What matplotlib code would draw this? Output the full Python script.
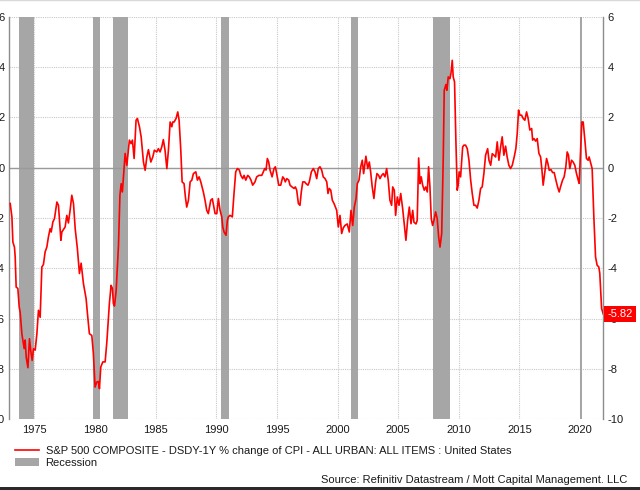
import matplotlib
matplotlib.use('Agg')
import matplotlib.pyplot as plt
import matplotlib.patches as mpatches
from matplotlib.lines import Line2D

plt.rcParams.update({
    'font.family': ['Liberation Sans', 'DejaVu Sans'],
    'font.size': 8,
})

LINE_COLOR = '#FF0000'
REC_COLOR = '#A6A6A6'
GRID_COLOR = '#C8C8C8'
SPINE_COLOR = '#8C8C8C'
TEXT_COLOR = '#1A1A1A'

# --- Data: S&P 500 dividend yield minus CPI y/y ---
YEARS = [
    1973.00, 1973.14, 1973.22, 1973.35, 1973.41, 1973.49, 1973.63, 1973.74, 1973.82, 1973.96,
    1974.15, 1974.23, 1974.32, 1974.46, 1974.59, 1974.70, 1974.81, 1974.92, 1975.06, 1975.20,
    1975.33, 1975.47, 1975.61, 1975.74, 1975.88, 1976.02, 1976.15, 1976.29, 1976.38, 1976.52,
    1976.65, 1976.85, 1976.98, 1977.18, 1977.26, 1977.53, 1977.67, 1977.80, 1977.94, 1978.08,
    1978.22, 1978.36, 1978.54, 1978.71, 1978.85, 1979.04, 1979.26, 1979.37, 1979.53, 1979.73,
    1979.86, 1980.00, 1980.14, 1980.28, 1980.36, 1980.47, 1980.64, 1980.83, 1980.97, 1981.18,
    1981.32, 1981.43, 1981.51, 1981.60, 1981.74, 1981.93, 1982.05, 1982.15, 1982.25, 1982.48,
    1982.62, 1982.83, 1982.97, 1983.08, 1983.22, 1983.38, 1983.49, 1983.66, 1983.80, 1983.99,
    1984.13, 1984.27, 1984.40, 1984.60, 1984.76, 1984.89, 1985.09, 1985.22, 1985.36, 1985.50,
    1985.63, 1985.77, 1985.92, 1986.05, 1986.19, 1986.33, 1986.41, 1986.52, 1986.68, 1986.82,
    1986.93, 1987.07, 1987.18, 1987.34, 1987.45, 1987.56, 1987.70, 1987.84, 1987.98, 1988.11,
    1988.31, 1988.44, 1988.58, 1988.72, 1988.93, 1989.07, 1989.21, 1989.34, 1989.54, 1989.67,
    1989.90, 1990.04, 1990.17, 1990.31, 1990.45, 1990.53, 1990.64, 1990.80, 1990.91, 1990.99,
    1991.13, 1991.32, 1991.46, 1991.60, 1991.74, 1991.90, 1992.02, 1992.18, 1992.29, 1992.43,
    1992.59, 1992.72, 1992.86, 1993.00, 1993.19, 1993.33, 1993.52, 1993.75, 1993.88, 1993.99,
    1994.10, 1994.21, 1994.32, 1994.43, 1994.60, 1994.76, 1994.87, 1994.98, 1995.15, 1995.31,
    1995.48, 1995.59, 1995.69, 1995.81, 1995.97, 1996.08, 1996.24, 1996.41, 1996.52, 1996.63,
    1996.77, 1996.90, 1997.01, 1997.13, 1997.29, 1997.40, 1997.56, 1997.67, 1997.84, 1998.00,
    1998.14, 1998.28, 1998.41, 1998.55, 1998.69, 1998.82, 1998.97, 1999.11, 1999.21, 1999.32,
    1999.44, 1999.57, 1999.71, 1999.82, 1999.93, 2000.06, 2000.20, 2000.34, 2000.47, 2000.61,
    2000.80, 2000.97, 2001.11, 2001.25, 2001.38, 2001.52, 2001.63, 2001.77, 2001.91, 2002.04,
    2002.15, 2002.26, 2002.34, 2002.49, 2002.62, 2002.73, 2002.86, 2003.00, 2003.14, 2003.25,
    2003.39, 2003.50, 2003.64, 2003.77, 2003.91, 2004.05, 2004.18, 2004.32, 2004.46, 2004.55,
    2004.68, 2004.79, 2004.93, 2005.07, 2005.21, 2005.37, 2005.50, 2005.64, 2005.78, 2005.92,
    2006.06, 2006.20, 2006.30, 2006.47, 2006.57, 2006.69, 2006.80, 2006.90, 2007.02, 2007.15,
    2007.27, 2007.40, 2007.51, 2007.62, 2007.73, 2007.84, 2007.95, 2008.09, 2008.22, 2008.34,
    2008.45, 2008.59, 2008.72, 2008.80, 2008.94, 2009.02, 2009.13, 2009.27, 2009.35, 2009.46,
    2009.54, 2009.65, 2009.76, 2009.87, 2009.95, 2010.03, 2010.15, 2010.32, 2010.42, 2010.56,
    2010.70, 2010.84, 2010.98, 2011.11, 2011.25, 2011.39, 2011.52, 2011.66, 2011.80, 2011.93,
    2012.07, 2012.21, 2012.38, 2012.49, 2012.63, 2012.76, 2012.90, 2013.04, 2013.17, 2013.31,
    2013.45, 2013.58, 2013.72, 2013.86, 2013.99, 2014.13, 2014.27, 2014.41, 2014.57, 2014.71,
    2014.82, 2014.93, 2015.04, 2015.18, 2015.31, 2015.45, 2015.59, 2015.72, 2015.86, 2016.01,
    2016.09, 2016.20, 2016.34, 2016.47, 2016.61, 2016.75, 2016.86, 2016.96, 2017.10, 2017.24,
    2017.35, 2017.46, 2017.60, 2017.74, 2017.87, 2018.01, 2018.15, 2018.28, 2018.39, 2018.56,
    2018.69, 2018.83, 2018.94, 2019.05, 2019.16, 2019.30, 2019.43, 2019.57, 2019.71, 2019.85,
    2019.93, 2020.04, 2020.15, 2020.26, 2020.40, 2020.53, 2020.67, 2020.75, 2020.87, 2021.00,
    2021.14, 2021.28, 2021.41, 2021.55, 2021.63, 2021.78, 2021.92,
]
VALUES = [
    -1.43, -1.96, -2.96, -3.16, -3.55, -4.75, -4.80, -5.54, -5.74, -6.60,
    -7.19, -6.85, -7.53, -7.95, -6.80, -7.30, -7.66, -7.20, -7.25, -6.60,
    -5.67, -5.95, -3.95, -3.85, -3.35, -3.16, -2.76, -2.43, -2.56, -2.16,
    -2.03, -1.37, -1.50, -2.89, -2.56, -2.36, -1.90, -2.20, -1.70, -1.10,
    -1.43, -2.43, -3.22, -4.21, -3.80, -4.61, -5.21, -5.80, -6.60, -6.67,
    -7.39, -8.72, -8.52, -8.50, -8.78, -7.92, -7.72, -7.72, -6.93, -5.40,
    -4.68, -4.80, -5.40, -5.50, -4.88, -3.10, -1.10, -0.64, -0.97, 0.56,
    0.09, 1.09, 0.95, 1.09, 0.36, 1.88, 1.95, 1.62, 1.22, 0.22,
    -0.11, 0.42, 0.71, 0.22, 0.42, 0.69, 0.62, 0.75, 0.62, 0.82,
    1.11, 0.69, -0.04, 0.69, 1.81, 1.62, 1.81, 1.81, 1.95, 2.21,
    1.88, 0.69, -0.57, -0.64, -1.17, -1.57, -1.30, -0.57, -0.50, -0.24,
    -0.17, -0.50, -0.37, -0.57, -0.97, -1.30, -1.70, -1.83, -1.30, -1.24,
    -1.83, -1.83, -1.23, -1.70, -1.96, -2.36, -2.56, -2.69, -2.10, -1.96,
    -1.90, -1.96, -1.03, -0.17, -0.04, -0.10, -0.31, -0.44, -0.31, -0.50,
    -0.31, -0.37, -0.50, -0.70, -0.57, -0.37, -0.31, -0.31, -0.17, -0.04,
    -0.10, 0.36, 0.22, -0.10, -0.37, -0.04, 0.03, -0.24, -0.70, -0.70,
    -0.37, -0.44, -0.57, -0.44, -0.50, -0.70, -0.77, -0.83, -0.77, -0.90,
    -1.43, -1.50, -0.97, -0.57, -0.57, -0.64, -0.70, -0.57, -0.17, -0.04,
    -0.17, -0.44, -0.04, 0.03, -0.10, -0.37, -0.44, -0.57, -1.03, -0.83,
    -0.90, -1.30, -1.43, -1.57, -1.70, -2.36, -1.90, -2.62, -2.40, -2.30,
    -2.24, -2.56, -1.70, -2.30, -1.57, -1.25, -0.64, -0.50, 0.03, 0.29,
    -0.24, 0.16, 0.45, -0.04, 0.22, -0.17, -0.77, -1.23, -0.57, -0.24,
    -0.31, -0.44, -0.31, -0.24, -0.37, -0.04, -0.50, -1.30, -1.50, -0.77,
    -0.90, -1.90, -1.17, -1.50, -1.03, -1.63, -2.23, -2.89, -2.10, -1.57,
    -2.23, -1.70, -2.17, -2.24, -2.10, 0.38, -0.64, -0.37, -0.70, -0.90,
    -0.77, -0.97, 0.03, -0.77, -2.03, -2.30, -2.10, -1.76, -2.03, -2.76,
    -3.16, -2.62, 0.42, 3.07, 3.30, 3.07, 3.60, 3.53, 3.73, 4.26,
    3.60, 3.40, 1.09, -0.90, -0.70, -0.17, -0.37, 0.82, 0.89, 0.89,
    0.75, 0.29, -0.50, -1.03, -1.50, -1.50, -1.61, -1.30, -0.83, -0.77,
    -0.24, 0.49, 0.75, 0.29, 0.09, 0.55, 0.49, 0.42, 1.02, 0.29,
    0.82, 1.22, 0.49, 0.85, 0.42, 0.09, -0.04, 0.09, 0.42, 0.76,
    1.35, 2.28, 2.08, 2.08, 1.95, 1.88, 2.21, 1.95, 1.49, 1.55,
    1.09, 1.15, 1.05, 1.15, 0.56, 0.42, -0.11, -0.70, -0.17, 0.36,
    0.16, -0.11, -0.08, -0.20, -0.20, -0.50, -0.77, -0.97, -0.77, -0.50,
    -0.37, 0.03, 0.62, 0.49, -0.04, 0.29, 0.22, 0.09, -0.24, -0.50,
    -0.63, 0.56, 1.81, 1.81, 1.09, 0.36, 0.29, 0.42, 0.20, -0.04,
    -1.96, -3.55, -3.88, -3.95, -4.20, -5.60, -5.82,
]
LAST_VALUE = -5.82

# NBER recessions (start, end) in decimal years
REC_START = [1973.76, 1979.86, 1981.46, 1990.39, 2001.08, 2007.84, 2020.00]
REC_END = [1975.00, 1980.42, 1982.72, 1991.08, 2001.71, 2009.27, 2020.16]

X_TICKS = [1975, 1980, 1985, 1990, 1995, 2000, 2005, 2010, 2015, 2020]
Y_TICKS = [6, 4, 2, 0, -2, -4, -6, -8, -10]

SERIES_LABEL = 'S&P 500 COMPOSITE - DSDY-1Y % change of CPI - ALL URBAN: ALL ITEMS : United States'
SOURCE = 'Source: Refinitiv Datastream / Mott Capital Management. LLC'

# --- Plot ---
fig = plt.figure(figsize=(6.4, 4.9), dpi=100)
ax = fig.add_axes([9 / 640, 1 - 419.3 / 490, (603.3 - 9) / 640, (419.3 - 16.5) / 490])

for s, e in zip(REC_START, REC_END):
    ax.axvspan(s, e, color=REC_COLOR, lw=0, zorder=1)

ax.axhline(0, color='#9A9A9A', lw=1.0, zorder=2)
ax.plot(YEARS, VALUES, color=LINE_COLOR, lw=1.2, zorder=3)

ax.set_xlim(1972.9, 2021.92)
ax.set_ylim(-10, 6)
ax.set_xticks(X_TICKS)
ax.set_yticks(Y_TICKS)
ax.set_yticklabels([str(v) for v in Y_TICKS])

ax.grid(True, color=GRID_COLOR, linestyle=(0, (1, 1)), lw=0.8, zorder=0)
ax.set_axisbelow(True)

for side in ['top', 'bottom']:
    ax.spines[side].set_visible(False)
for side in ['left', 'right']:
    ax.spines[side].set_color(SPINE_COLOR)
    ax.spines[side].set_linewidth(1.0)

ax.tick_params(axis='both', length=0, labelsize=8, labelcolor=TEXT_COLOR)
ax.tick_params(axis='y', labelleft=True, labelright=True, pad=3)
ax.tick_params(axis='x', pad=4)

# last value tag (sits over the right-hand -6 label, as in the source chart)
ax.annotate(f'{LAST_VALUE:.2f}', xy=(1.0, LAST_VALUE), xycoords=('axes fraction', 'data'),
            xytext=(3, 0), textcoords='offset points', ha='left', va='center',
            color='white', fontsize=8, annotation_clip=False, zorder=10,
            bbox=dict(boxstyle='square,pad=0.3', fc=LINE_COLOR, ec='none'))

# legend
handles = [
    Line2D([], [], color=LINE_COLOR, lw=1.2),
    mpatches.Patch(facecolor=REC_COLOR, edgecolor='none'),
]
fig.legend(handles, [SERIES_LABEL, 'Recession'], loc='upper left',
           bbox_to_anchor=(15 / 640, 1 - 446 / 490), frameon=False, fontsize=8,
           handlelength=2.2, handleheight=0.7, handletextpad=0.55,
           labelspacing=0.15, borderpad=0, borderaxespad=0, labelcolor=TEXT_COLOR)

fig.text(627 / 640, 1 - 479.5 / 490, SOURCE, ha='right', va='center',
         fontsize=8, color=TEXT_COLOR)

# frame lines of the screenshot
fig.add_artist(mpatches.Rectangle((0, 0), 1, 3.5 / 490, transform=fig.transFigure,
                                  facecolor='#2B2B2B', edgecolor='none'))
fig.add_artist(Line2D([0, 1], [1 - 0.5 / 490, 1 - 0.5 / 490], transform=fig.transFigure,
                      color='#D9D9D9', lw=1.0))

fig.savefig('out.png', dpi=100)
